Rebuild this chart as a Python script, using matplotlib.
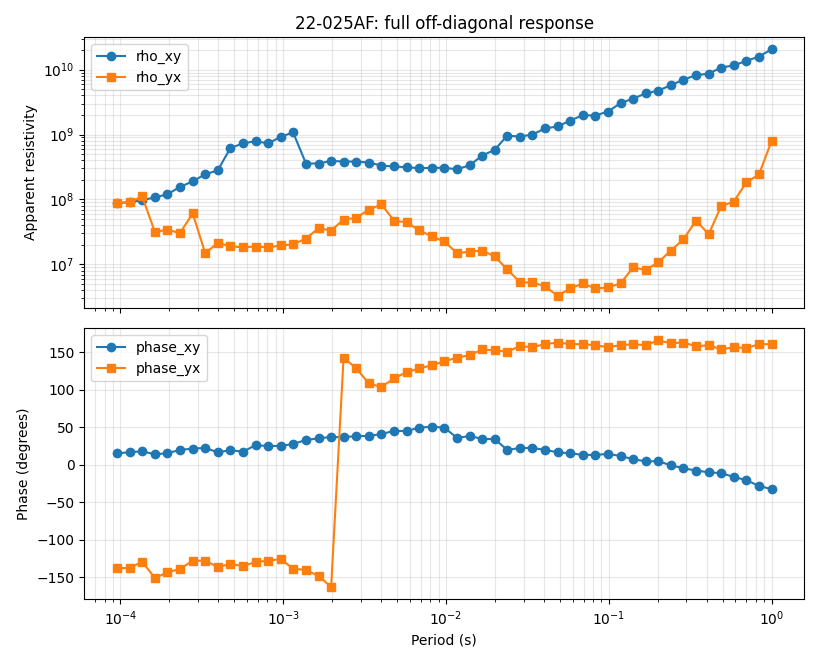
import matplotlib

matplotlib.use("Agg", force=True)
import matplotlib.pyplot as plt


STATION = "22-025AF"

# periods (s)
PERIODS = [
    9.54e-05, 1.14e-04, 1.36e-04, 1.63e-04, 1.94e-04, 2.32e-04, 2.78e-04, 3.32e-04,
    3.96e-04, 4.74e-04, 5.66e-04, 6.76e-04, 8.08e-04, 9.66e-04, 1.15e-03, 1.38e-03,
    1.65e-03, 1.97e-03, 2.35e-03, 2.81e-03, 3.36e-03, 4.01e-03, 4.79e-03, 5.73e-03,
    6.84e-03, 8.18e-03, 9.78e-03, 1.17e-02, 1.40e-02, 1.67e-02, 1.99e-02, 2.38e-02,
    2.85e-02, 3.40e-02, 4.06e-02, 4.85e-02, 5.79e-02, 6.92e-02, 8.27e-02, 9.88e-02,
    1.181e-01, 1.411e-01, 1.686e-01, 2.014e-01, 2.407e-01, 2.876e-01, 3.436e-01,
    4.106e-01, 4.906e-01, 5.862e-01, 7.004e-01, 8.369e-01, 1.0,
]

RHO_XY = [
    8.8e7, 9.1e7, 9.75e7, 1.08e8, 1.2e8, 1.56e8, 1.9e8, 2.45e8, 2.8e8, 6.2e8,
    7.3e8, 7.9e8, 7.3e8, 9.2e8, 1.08e9, 3.58e8, 3.58e8, 3.93e8, 3.84e8, 3.84e8,
    3.7e8, 3.33e8, 3.22e8, 3.14e8, 3.03e8, 3.07e8, 3.07e8, 2.92e8, 3.37e8, 4.75e8,
    5.8e8, 9.65e8, 9.3e8, 1.0e9, 1.24e9, 1.33e9, 1.64e9, 1.98e9, 1.96e9, 2.26e9,
    3.03e9, 3.58e9, 4.28e9, 4.75e9, 5.73e9, 7.0e9, 8.17e9, 8.67e9, 1.07e10,
    1.16e10, 1.36e10, 1.58e10, 2.05e10,
]

RHO_YX = [
    8.8e7, 9.0e7, 1.12e8, 3.14e7, 3.45e7, 3.03e7, 6.1e7, 1.49e7, 2.15e7, 1.91e7,
    1.83e7, 1.89e7, 1.83e7, 1.96e7, 2.03e7, 2.51e7, 3.62e7, 3.33e7, 4.92e7, 5.21e7,
    7.0e7, 8.4e7, 4.75e7, 4.43e7, 3.37e7, 2.7e7, 2.26e7, 1.49e7, 1.58e7, 1.64e7,
    1.33e7, 8.4e6, 5.3e6, 5.3e6, 4.6e6, 3.3e6, 4.27e6, 5.1e6, 4.27e6, 4.43e6,
    5.1e6, 9.0e6, 8.2e6, 1.08e7, 1.64e7, 2.43e7, 4.75e7, 2.92e7, 7.9e7, 9.3e7,
    1.83e8, 2.43e8, 7.9e8,
]

PHASE_XY = [
    15.1, 16.4, 17.7, 13.7, 15.1, 19.5, 21.3, 22.2, 16.4, 19.1,
    17.3, 25.7, 24.8, 24.8, 27.5, 32.8, 35.0, 36.8, 36.4, 38.1,
    38.1, 40.8, 44.8, 44.8, 49.2, 50.5, 49.2, 35.5, 38.1, 34.1,
    34.1, 19.5, 22.2, 22.2, 19.5, 16.4, 15.1, 12.9, 12.9, 14.2,
    11.5, 7.1, 4.4, 4.4, -0.9, -4.9, -8.0, -10.2, -11.5, -16.4,
    -20.8, -28.4, -32.8,
]

PHASE_YX = [
    -137.9, -137.9, -129.4, -151.2, -143.6, -139.2, -128.1, -128.1, -136.5, -132.5,
    -135.2, -129.9, -128.1, -125.9, -138.8, -140.5, -148.5, -163.1, 142.7, 128.1,
    108.2, 103.3, 114.8, 123.2, 128.1, 132.5, 137.4, 142.7, 145.8, 153.4,
    152.1, 150.7, 157.8, 156.5, 160.5, 162.7, 160.5, 160.5, 159.1, 156.5,
    159.1, 160.5, 159.1, 165.4, 161.8, 162.7, 157.8, 159.1, 153.4, 156.5,
    155.2, 160.5, 160.5,
]


fig, (ax_rho, ax_phs) = plt.subplots(2, 1, sharex=True, figsize=(8.19, 6.6), dpi=100)
fig.subplots_adjust(left=0.103, right=0.982, top=0.944, bottom=0.092, hspace=0.074)

ax_rho.loglog(PERIODS, RHO_XY, marker="o", label="rho_xy")
ax_rho.loglog(PERIODS, RHO_YX, marker="s", label="rho_yx")
ax_rho.set_ylabel("Apparent resistivity")
ax_rho.set_title(f"{STATION}: full off-diagonal response")
ax_rho.grid(True, which="both", alpha=0.3)
ax_rho.legend(loc="upper left")

ax_phs.semilogx(PERIODS, PHASE_XY, marker="o", label="phase_xy")
ax_phs.semilogx(PERIODS, PHASE_YX, marker="s", label="phase_yx")
ax_phs.set_xlabel("Period (s)")
ax_phs.set_ylabel("Phase (degrees)")
ax_phs.grid(True, which="both", alpha=0.3)
ax_phs.legend(loc="upper left")

fig.savefig("out.png", dpi=100)
plt.close(fig)
